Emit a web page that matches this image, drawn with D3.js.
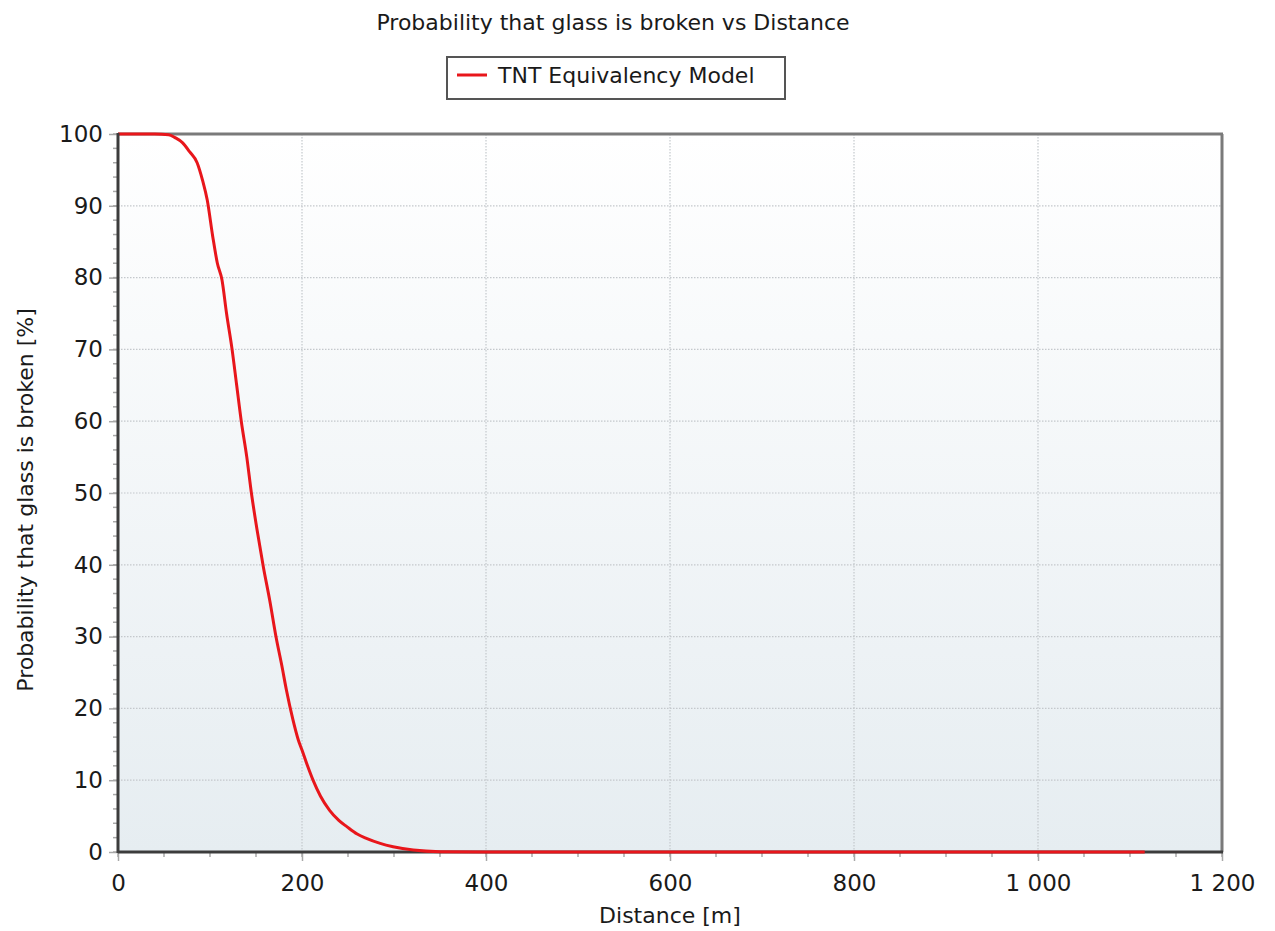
<!DOCTYPE html>
<html><head><meta charset="utf-8">
<script src="https://cdn.jsdelivr.net/npm/d3@7"></script>
<style>
body{margin:0;background:#fff;}
text{font-family:"DejaVu Sans",Verdana,sans-serif;fill:#1a1a1a;}
</style></head>
<body>
<svg id="chart" width="1275" height="931"></svg>
<script>
const chartTitle = "Probability that glass is broken vs Distance";
const seriesName = "TNT Equivalency Model";
const xLabel = "Distance [m]";
const yLabel = "Probability that glass is broken [%]";
const distance = [0, 20, 40, 55, 62, 70, 78, 86, 92, 97, 103, 108, 113, 118, 124, 129, 134, 140, 145, 151, 158, 165, 172, 178, 183, 190, 196, 200, 206, 212, 220, 230, 240, 249, 260, 270, 285, 299, 321, 350, 400, 500, 700, 900, 1116];
const probability = [100, 100, 100, 99.9, 99.5, 98.8, 97.5, 96, 93.5, 90.8, 85.7, 82, 79.7, 75, 70, 65, 60, 55, 50, 45, 39.7, 35, 29.8, 26, 22.6, 18.5, 15.6, 14.2, 12, 10, 7.8, 5.8, 4.4, 3.5, 2.5, 1.9, 1.2, 0.74, 0.28, 0.05, 0, 0, 0, 0, 0];
const xTicks = [0, 200, 400, 600, 800, 1000, 1200];
const xTickLabels = ["0", "200", "400", "600", "800", "1 000", "1 200"];
const yTicks = [0, 10, 20, 30, 40, 50, 60, 70, 80, 90, 100];

const svg = d3.select("#chart");
const L = 118, R = 1222, T = 134, B = 852;
const x = d3.scaleLinear().domain([0, 1200]).range([L, R]);
const y = d3.scaleLinear().domain([0, 100]).range([B, T]);

const defs = svg.append("defs");
const grad = defs.append("linearGradient").attr("id","bg").attr("x1",0).attr("y1",0).attr("x2",0).attr("y2",1);
grad.append("stop").attr("offset","0%").attr("stop-color","#ffffff");
grad.append("stop").attr("offset","100%").attr("stop-color","#e6edf1");
svg.append("rect").attr("x",L).attr("y",T).attr("width",R-L).attr("height",B-T).attr("fill","url(#bg)");

// grid
const g = svg.append("g");
g.selectAll(".gx").data(xTicks.slice(1,-1)).join("line")
  .attr("x1",d=>x(d)).attr("x2",d=>x(d)).attr("y1",T).attr("y2",B)
  .attr("stroke","#c4c8cc").attr("stroke-width",1.2).attr("stroke-dasharray","1.5,1.5");
g.selectAll(".gy").data(yTicks.slice(1,-1)).join("line")
  .attr("y1",d=>y(d)).attr("y2",d=>y(d)).attr("x1",L).attr("x2",R)
  .attr("stroke","#c4c8cc").attr("stroke-width",1.2).attr("stroke-dasharray","1.5,1.5");

// minor ticks
const xMinor = d3.range(0, 1201, 50);
const yMinor = d3.range(0, 101, 2);
svg.append("g").selectAll("line").data(xMinor).join("line")
  .attr("x1",d=>x(d)).attr("x2",d=>x(d)).attr("y1",B).attr("y2",B+5)
  .attr("stroke","#a8a8a8").attr("stroke-width",1.5);
svg.append("g").selectAll("line").data(yMinor).join("line")
  .attr("y1",d=>y(d)).attr("y2",d=>y(d)).attr("x1",L-5).attr("x2",L)
  .attr("stroke","#a8a8a8").attr("stroke-width",1.5);

// axes
const xAxis = d3.axisBottom(x).tickValues(xTicks).tickFormat((d,i)=>xTickLabels[i]).tickSize(9).tickPadding(14);
const ax = svg.append("g").attr("transform",`translate(0,${B})`).call(xAxis);
ax.select(".domain").remove();
ax.selectAll(".tick line").attr("stroke","#a8a8a8").attr("stroke-width",1.5);
ax.selectAll(".tick text").attr("font-size","23px").attr("fill","#1a1a1a");

const yAxis = d3.axisLeft(y).tickValues(yTicks).tickSize(9).tickPadding(6);
const ay = svg.append("g").attr("transform",`translate(${L},0)`).call(yAxis);
ay.select(".domain").remove();
ay.selectAll(".tick line").attr("stroke","#a8a8a8").attr("stroke-width",1.5);
ay.selectAll(".tick text").attr("font-size","23px").attr("fill","#1a1a1a");

// frame
svg.append("line").attr("x1",L).attr("x2",R+1).attr("y1",T).attr("y2",T).attr("stroke","#7a7a7a").attr("stroke-width",3);
svg.append("line").attr("x1",R).attr("x2",R).attr("y1",T).attr("y2",B).attr("stroke","#7a7a7a").attr("stroke-width",3);
svg.append("line").attr("x1",L).attr("x2",R+1).attr("y1",B).attr("y2",B).attr("stroke","#3c3c3c").attr("stroke-width",3);

// line
const line = d3.line().x((d,i)=>x(distance[i])).y(d=>y(d)).curve(d3.curveMonotoneX);
svg.append("path").datum(probability).attr("d",line)
  .attr("fill","none").attr("stroke","#e8161b").attr("stroke-width",3).attr("stroke-linejoin","round");

svg.append("line").attr("x1",L).attr("x2",L).attr("y1",T-1).attr("y2",B+1).attr("stroke","#3c3c3c").attr("stroke-width",3);

// titles
svg.append("text").attr("x",613).attr("y",30).attr("text-anchor","middle").attr("font-size","22px").text(chartTitle);
svg.append("text").attr("x",670).attr("y",923).attr("text-anchor","middle").attr("font-size","22px").text(xLabel);
svg.append("text").attr("transform",`translate(33,${(T+B)/2 + 7}) rotate(-90)`).attr("text-anchor","middle").attr("font-size","22px").text(yLabel);

// legend
const lg = svg.append("g");
lg.append("rect").attr("x",447).attr("y",57).attr("width",338).attr("height",42).attr("fill","#fff").attr("stroke","#555").attr("stroke-width",2);
lg.append("line").attr("x1",457).attr("x2",487).attr("y1",75).attr("y2",75).attr("stroke","#e8161b").attr("stroke-width",3);
lg.append("text").attr("x",498).attr("y",83).attr("font-size","22px").text(seriesName);
</script>
</body></html>
